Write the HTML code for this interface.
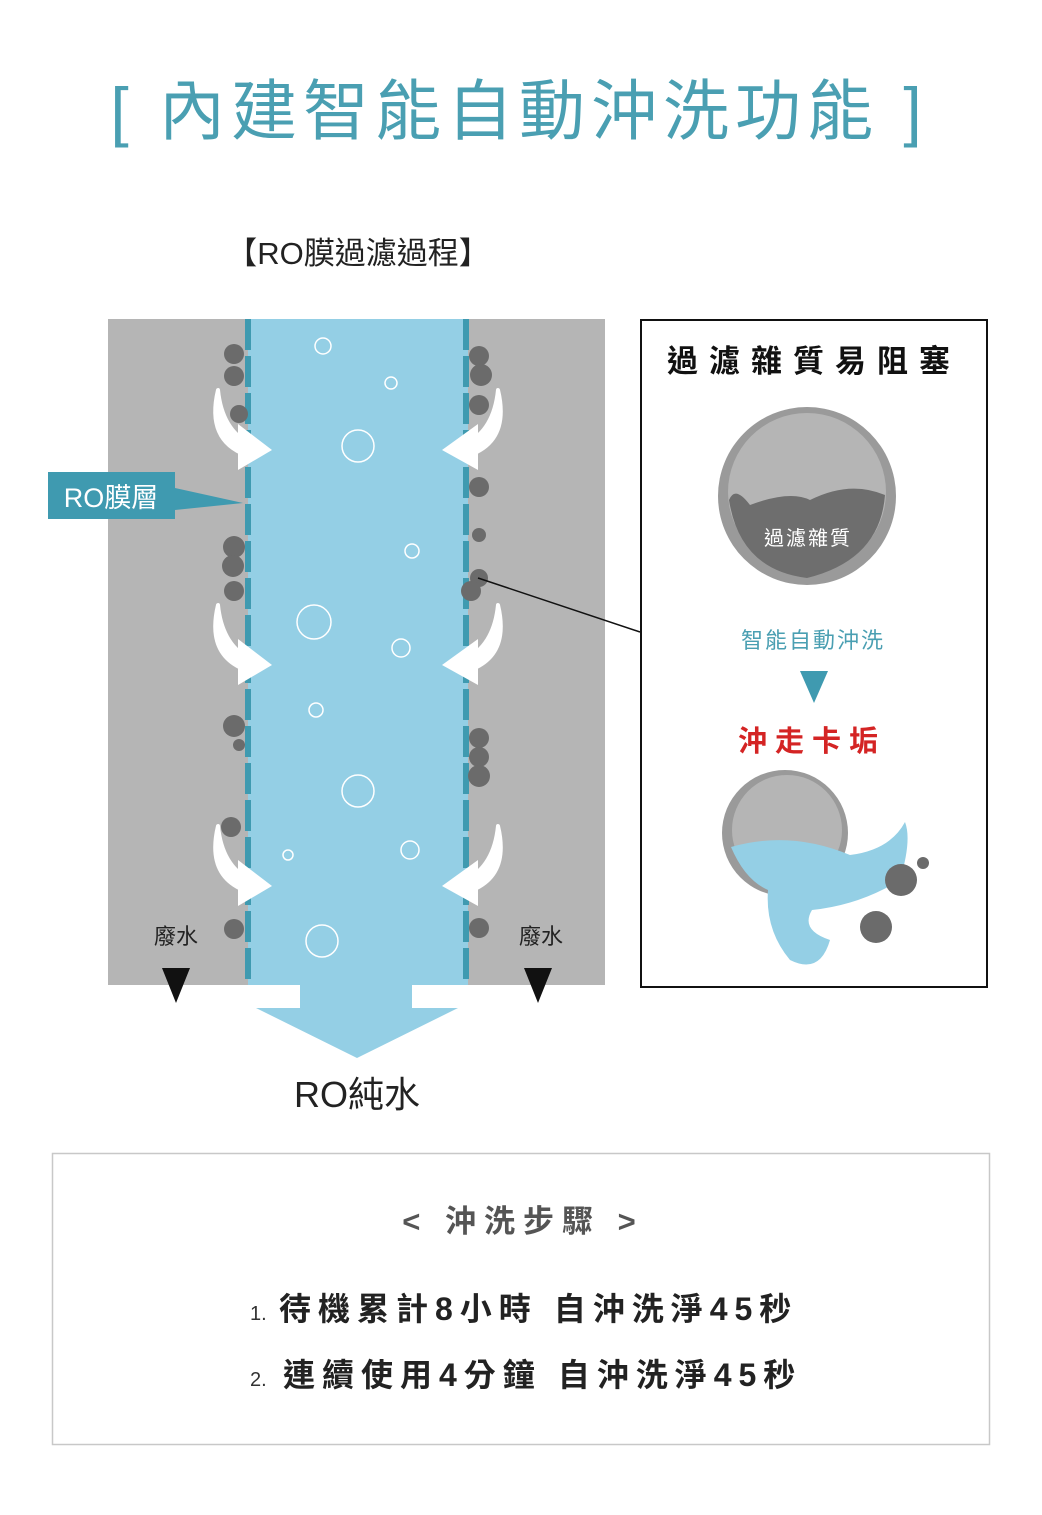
<!DOCTYPE html>
<html><head><meta charset="utf-8"><style>
html,body{margin:0;padding:0;background:#fff;}
svg{display:block;}
text{font-family:"Liberation Sans","Noto Sans CJK TC",sans-serif;}
</style></head><body>
<svg width="1042" height="1515" viewBox="0 0 1042 1515" xmlns="http://www.w3.org/2000/svg">
<defs>
<g id="arrL"><path d="M218,390 Q206,440 246,455 L250,444 Q222,430 218,390 Z" fill="#fff" stroke="#fff" stroke-width="4" stroke-linejoin="round"/><polygon points="238,424 272,450 238,470" fill="#fff"/></g>
<g id="arrR"><path d="M498,390 Q510,440 470,455 L466,444 Q494,430 498,390 Z" fill="#fff" stroke="#fff" stroke-width="4" stroke-linejoin="round"/><polygon points="478,424 442,450 478,470" fill="#fff"/></g>
</defs>
<text x="519" y="134" text-anchor="middle" font-size="66" fill="#4a9fb2" letter-spacing="6">[ 內建智能自動沖洗功能 ]</text>
<text x="358" y="264" text-anchor="middle" font-size="31" fill="#222">【RO膜過濾過程】</text>

<rect x="108" y="319" width="497" height="666" fill="#b5b5b5"/>
<rect x="248" y="319" width="220" height="666" fill="#94cfe5"/>
<line x1="248" y1="319" x2="248" y2="985" stroke="#3f9ab0" stroke-width="6" stroke-dasharray="31,6"/>
<line x1="466" y1="319" x2="466" y2="985" stroke="#3f9ab0" stroke-width="6" stroke-dasharray="31,6"/>
<polygon points="300,985 412,985 412,1008 458,1008 357,1058 256,1008 300,1008" fill="#94cfe5"/>

<g fill="#6b6b6b">
<circle cx="234" cy="354" r="10"/><circle cx="234" cy="376" r="10"/><circle cx="239" cy="414" r="9"/>
<circle cx="234" cy="547" r="11"/><circle cx="233" cy="566" r="11"/><circle cx="234" cy="591" r="10"/>
<circle cx="234" cy="726" r="11"/><circle cx="239" cy="745" r="6"/><circle cx="231" cy="827" r="10"/><circle cx="234" cy="929" r="10"/>
<circle cx="479" cy="356" r="10"/><circle cx="481" cy="375" r="11"/><circle cx="479" cy="405" r="10"/>
<circle cx="479" cy="487" r="10"/><circle cx="479" cy="535" r="7"/><circle cx="479" cy="578" r="9"/><circle cx="471" cy="591" r="10"/>
<circle cx="479" cy="738" r="10"/><circle cx="479" cy="757" r="10"/><circle cx="479" cy="776" r="11"/><circle cx="479" cy="928" r="10"/>
</g>
<g fill="none" stroke="#fff" stroke-width="1.5">
<circle cx="323" cy="346" r="8"/><circle cx="391" cy="383" r="6"/><circle cx="358" cy="446" r="16"/><circle cx="412" cy="551" r="7"/>
<circle cx="314" cy="622" r="17"/><circle cx="401" cy="648" r="9"/><circle cx="316" cy="710" r="7"/><circle cx="358" cy="791" r="16"/>
<circle cx="410" cy="850" r="9"/><circle cx="288" cy="855" r="5"/><circle cx="322" cy="941" r="16"/>
</g>
<use href="#arrL"/><use href="#arrR"/>
<use href="#arrL" transform="translate(0,215)"/><use href="#arrR" transform="translate(0,215)"/>
<use href="#arrL" transform="translate(0,436)"/><use href="#arrR" transform="translate(0,436)"/>

<rect x="48" y="472" width="127" height="47" fill="#3f9ab0"/>
<polygon points="175,488 243,503 175,510" fill="#3f9ab0"/>
<text x="111" y="507" text-anchor="middle" font-size="27" fill="#fff">RO膜層</text>

<text x="176" y="944" text-anchor="middle" font-size="22" fill="#222">廢水</text>
<text x="541" y="944" text-anchor="middle" font-size="22" fill="#222">廢水</text>
<polygon points="162,968 190,968 176,1003" fill="#111"/>
<polygon points="524,968 552,968 538,1003" fill="#111"/>
<text x="357" y="1107" text-anchor="middle" font-size="36" fill="#222">RO純水</text>

<line x1="478" y1="578" x2="640" y2="632" stroke="#111" stroke-width="1.5"/>
<rect x="641" y="320" width="346" height="667" fill="#fff" stroke="#111" stroke-width="2"/>
<text x="814" y="372" text-anchor="middle" font-size="31" font-weight="bold" fill="#111" letter-spacing="11">過濾雜質易阻塞</text>
<circle cx="807" cy="496" r="89" fill="#9a9a9a"/>
<circle cx="807" cy="492" r="79" fill="#b5b5b5"/>
<path d="M729,500 Q735,485 750,505 Q790,490 810,500 Q850,480 885,495 Q880,560 807,578 Q740,570 729,500 Z" fill="#6e6e6e"/>
<text x="808" y="545" text-anchor="middle" font-size="20" fill="#fff" letter-spacing="2">過濾雜質</text>
<text x="813" y="648" text-anchor="middle" font-size="22" fill="#4a9fb2" letter-spacing="2">智能自動沖洗</text>
<polygon points="800,671 828,671 814,703" fill="#3f9ab0"/>
<text x="812" y="751" text-anchor="middle" font-size="29" font-weight="bold" fill="#d42424" letter-spacing="8">沖走卡垢</text>
<circle cx="785" cy="833" r="63" fill="#9a9a9a"/>
<circle cx="787" cy="830" r="55" fill="#b5b5b5"/>
<path d="M731,847 Q790,830 850,855 Q890,850 905,822 Q912,840 900,880 Q860,905 812,910 Q800,930 830,940 Q820,975 790,960 Q765,930 768,890 Q745,880 731,847 Z" fill="#94cfe5"/>
<circle cx="901" cy="880" r="16" fill="#6b6b6b"/>
<circle cx="876" cy="927" r="16" fill="#6b6b6b"/>
<circle cx="923" cy="863" r="6" fill="#6b6b6b"/>

<rect x="52.5" y="1153.5" width="937" height="291" fill="#fff" stroke="#c8c8c8" stroke-width="1.5"/>
<text x="523" y="1232" text-anchor="middle" font-size="31" fill="#555" font-weight="bold" letter-spacing="8">&lt; 沖洗步驟 &gt;</text>
<text x="250" y="1320" font-size="20" fill="#333">1.</text>
<text x="279" y="1320" font-size="32" font-weight="bold" fill="#222" letter-spacing="7">待機累計8小時 自沖洗淨45秒</text>
<text x="250" y="1386" font-size="20" fill="#333">2.</text>
<text x="283" y="1386" font-size="32" font-weight="bold" fill="#222" letter-spacing="7">連續使用4分鐘 自沖洗淨45秒</text>
</svg>
</body></html>
